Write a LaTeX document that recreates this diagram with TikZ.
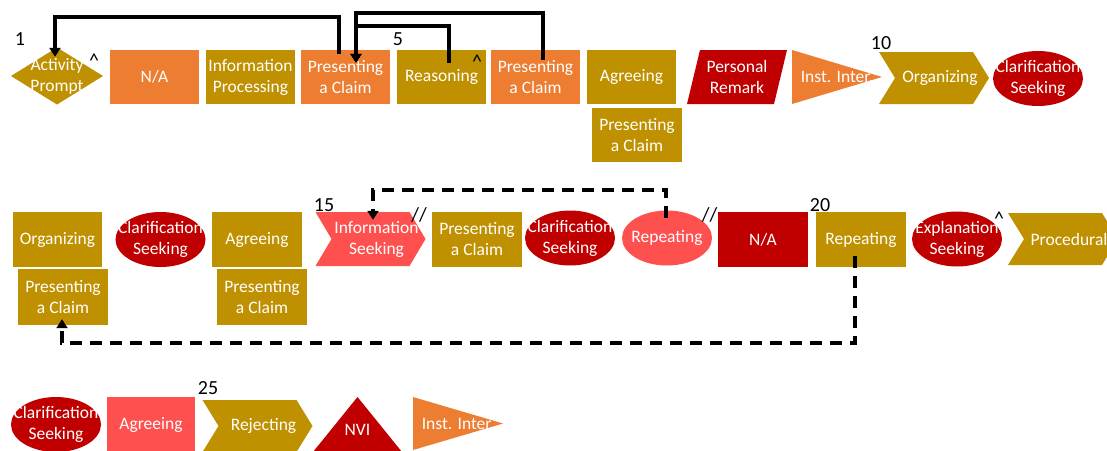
\documentclass[tikz,border=0pt]{standalone}
\usepackage{fontspec}
\setmainfont{Carlito}
\usetikzlibrary{arrows.meta,calc}

\definecolor{cgold}{HTML}{BF9000}
\definecolor{corange}{HTML}{ED7D31}
\definecolor{cred}{HTML}{C00000}
\definecolor{csalmon}{HTML}{FF5050}

\tikzset{
  act/.style={inner sep=0pt, text=white, align=center,
    font=\fontsize{17.5}{21}\selectfont},
  rbox/.style={act, rectangle, fill=#1, minimum width=89, minimum height=54},
  oval/.style={act, minimum width=90, minimum height=55,
    path picture={\fill[#1] (path picture bounding box.center) ellipse [x radius=45, y radius=27.5];}},
  dia/.style={act, minimum width=92, minimum height=57,
    path picture={\fill[#1] (path picture bounding box.west) -- (path picture bounding box.north)
      -- (path picture bounding box.east) -- (path picture bounding box.south) -- cycle;}},
  % chevron: node is 12pt wider than the shape so the text sits right of the shape centre
  chev/.style={act, minimum width=122, minimum height=52,
    path picture={\fill[#1] (path picture bounding box.north west)
      -- ([xshift=-28pt]path picture bounding box.north east)
      -- ([xshift=-12pt]path picture bounding box.east)
      -- ([xshift=-28pt]path picture bounding box.south east)
      -- (path picture bounding box.south west)
      -- ([xshift=16pt]path picture bounding box.west) -- cycle;}},
  tri/.style={act, minimum width=90, minimum height=54,
    path picture={\fill[#1] (path picture bounding box.north west) -- (path picture bounding box.east)
      -- (path picture bounding box.south west) -- cycle;}},
  % upward triangle: text sits in the lower part
  tup/.style={act, minimum width=89, minimum height=66,
    path picture={\fill[#1] (path picture bounding box.north)
      -- ([yshift=11pt]path picture bounding box.south east)
      -- ([yshift=11pt]path picture bounding box.south west) -- cycle;}},
  para/.style={act, minimum width=100, minimum height=54,
    path picture={\fill[#1] ([xshift=13pt]path picture bounding box.north west)
      -- (path picture bounding box.north east)
      -- ([xshift=-13pt]path picture bounding box.south east)
      -- (path picture bounding box.south west) -- cycle;}},
  numtag/.style={inner sep=0pt, font=\fontsize{20}{24}\selectfont},
  conn/.style={draw=black, line width=3.5pt, -{Triangle[length=9pt, width=11pt]}},
  dconn/.style={conn, dash pattern=on 12pt off 8pt},
}

\begin{document}
\begin{tikzpicture}[x=1pt, y=-1pt]
\useasboundingbox (0,0) rectangle (1107,450);
\fill[white] (0,0) rectangle (1107,450);
\clip (0,0) rectangle (1107,450);

% first row
\node[dia=cgold] (ap) at (57,76) {Activity\\Prompt};
\node[rbox=corange] (na1) at (154.5,77) {N/A};
\node[rbox=cgold] (ip) at (250.5,77) {Information\\Processing};
\node[rbox=corange] (pc1) at (345.5,77) {Presenting\\a Claim};
\node[rbox=cgold] (rs) at (441.5,77) {Reasoning};
\node[rbox=corange] (pc2) at (535.5,77) {Presenting\\a Claim};
\node[rbox=cgold] (ag1) at (631.5,77) {Agreeing};
\node[rbox=cgold, minimum width=90] (pc3) at (637,135) {Presenting\\a Claim};
\node[para=cred] (pr) at (737,77) {Personal\\Remark};
\node[tri=corange] (ii1) at (837,77) {Inst. Inter.};
\node[chev=cgold] (og1) at (940,78) {Organizing};
\node[oval=cred] (cs1) at (1038,78.5) {Clarification\\Seeking};

% second row
\node[rbox=cgold, minimum height=55] (og2) at (57.5,239.5) {Organizing};
\node[rbox=cgold, minimum width=90, minimum height=56] (pc4) at (63,297) {Presenting\\a Claim};
\node[oval=cred] (cs2) at (160.5,239.5) {Clarification\\Seeking};
\node[rbox=cgold, minimum width=90, minimum height=55] (ag2) at (257,239.5) {Agreeing};
\node[rbox=cgold, minimum width=90, minimum height=56] (pc5) at (262,297) {Presenting\\a Claim};
\node[chev=csalmon, minimum height=54] (is) at (376.5,239) {Information\\Seeking};
\node[rbox=cgold, minimum width=90, minimum height=55] (pc6) at (477,239.5) {Presenting\\a Claim};
\node[oval=cred] (cs3) at (570,238) {Clarification\\Seeking};
\node[oval=csalmon] (rp1) at (667,238) {Repeating};
\node[rbox=cred, minimum width=90, minimum height=55] (na2) at (763,239.5) {N/A};
\node[rbox=cgold, minimum width=90, minimum height=55] (rp2) at (861,239.5) {Repeating};
\node[oval=cred] (es) at (957,239) {Explanation\\Seeking};
\node[chev=cgold] (pd) at (1069,239) {Procedural};

% third row
\node[oval=cred] (cs4) at (56,424.5) {Clarification\\Seeking};
\node[rbox=csalmon, minimum width=88, minimum height=55] (ag3) at (151,424.5) {Agreeing};
\node[chev=cgold] (rj) at (263.5,426) {Rejecting};
\node[tup=cred] (nvi) at (357.5,430) {NVI};
\node[tri=corange, minimum height=53] (ii2) at (458,423.5) {Inst. Inter.};

% turn numbers and marks
\node[numtag] (n1) at (20,39) {1};
\node[numtag, anchor=north] (c1) at (94,54) {\textasciicircum};
\node[numtag] (n5) at (398,39) {5};
\node[numtag, anchor=north] (c2) at (477,55) {\textasciicircum};
\node[numtag] (n10) at (881,43.5) {10};
\node[numtag] (n15) at (324,205) {15};
\node[numtag] (s1) at (419,215) {//};
\node[numtag] (s2) at (709.5,214.5) {//};
\node[numtag] (n20) at (820,205) {20};
\node[numtag, anchor=north] (c3) at (999,212) {\textasciicircum};
\node[numtag] (n25) at (208,388) {25};

% solid links, first row
\draw[conn] ([shift={(-6.5,4)}]pc1.north) -- ++(0,-37) -| ([shift={(-2,9.5)}]ap.north);
\draw[conn] ([shift={(7.5,13)}]rs.north) -- ++(0,-37) -| ([shift={(10.5,13)}]pc1.north);
\draw[conn] ([shift={(7.5,10)}]pc2.north) -- ++(0,-47) -| ([shift={(10.5,13)}]pc1.north);

% dashed links, second row
\draw[dconn] ([shift={(-1,7.5)}]rp1.north) -- ++(0,-28) -| ([shift={(-3.5,8)}]is.north);
\draw[dconn] ([shift={(-6,-11)}]rp2.south) -- ++(0,87) -| ([shift={(-1,-6)}]pc4.south);
\end{tikzpicture}
\end{document}
